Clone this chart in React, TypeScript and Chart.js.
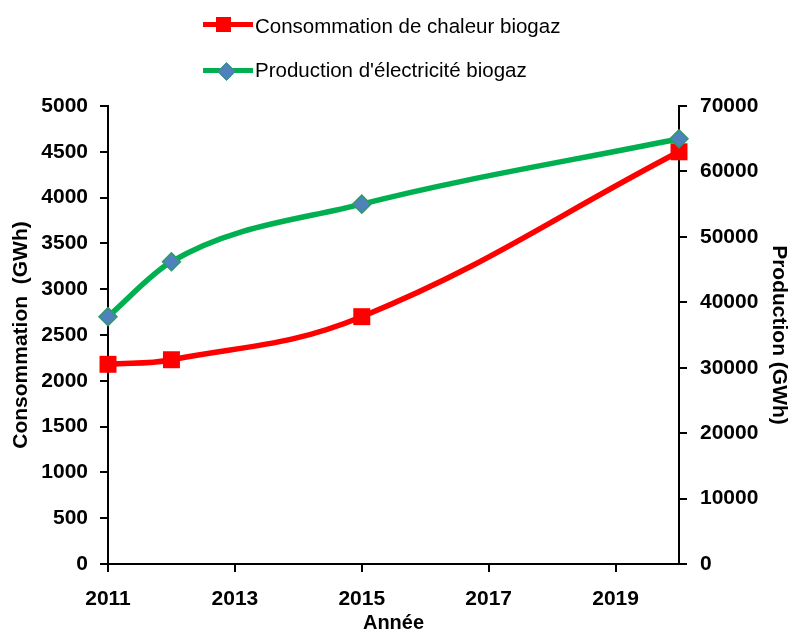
import React, { useEffect, useRef } from "react";
import { Chart, registerables } from "chart.js";

Chart.register(...registerables);

const years = [2011, 2012, 2015, 2020];
const consommation = [2180, 2230, 2700, 4500];
const production = [37800, 46200, 55000, 65000];
const xTickYears = [2011, 2013, 2015, 2017, 2019];

const labelConso = "Consommation de chaleur biogaz";
const labelProd = "Production d'électricité biogaz";

const FONT = "'Liberation Sans', Arial, sans-serif";

export default function App() {
  const ref = useRef<HTMLCanvasElement>(null);

  useEffect(() => {
    if (!ref.current) return;
    const tickFont = { family: FONT, size: 21, weight: "bold" as const };
    const chart = new Chart(ref.current, {
      type: "line",
      data: {
        datasets: [
          {
            label: labelConso,
            data: years.map((x, i) => ({ x, y: consommation[i] })),
            yAxisID: "y",
            borderColor: "#ff0000",
            backgroundColor: "#ff0000",
            borderWidth: 5.5,
            pointStyle: "rect",
            pointRadius: 12,
            pointBorderWidth: 0,
            pointBackgroundColor: "#ff0000",
            tension: 0.4,
            clip: false,
            order: 1,
          },
          {
            label: labelProd,
            data: years.map((x, i) => ({ x, y: production[i] })),
            yAxisID: "y1",
            borderColor: "#00b050",
            backgroundColor: "#4f81bd",
            borderWidth: 5.5,
            pointStyle: "rectRot",
            pointRadius: 9,
            pointBorderWidth: 1.5,
            pointBorderColor: "#2e9a6a",
            pointBackgroundColor: "#4f81bd",
            cubicInterpolationMode: "monotone",
            clip: false,
            order: 0,
          },
        ],
      },
      options: {
        responsive: false,
        animation: false,
        devicePixelRatio: 1,
        layout: { padding: { top: 106, left: 0, right: 0, bottom: 0 } },
        plugins: {
          legend: { display: false },
          tooltip: { enabled: false },
        },
        scales: {
          x: {
            type: "linear",
            position: "bottom",
            min: 2011,
            max: 2020,
            ticks: {
              stepSize: 2,
              font: tickFont,
              color: "#000",
              padding: 15,
              maxRotation: 0,
              callback: (v: any) => String(v),
            },
            afterBuildTicks: (s: any) => {
              s.ticks = xTickYears.map((v) => ({ value: v }));
            },
            afterFit: (s: any) => {
              s.height = 68;
            },
            grid: {
              drawOnChartArea: false,
              drawTicks: true,
              tickLength: 8,
              color: "#000",
              lineWidth: 2,
            },
            border: { display: true, color: "#000", width: 2 },
            title: {
              display: true,
              text: "Année",
              color: "#000",
              font: { family: FONT, size: 20, weight: "bold", lineHeight: 1 },
              padding: { top: 0, bottom: -1 },
            },
          },
          y: {
            type: "linear",
            position: "left",
            min: 0,
            max: 5000,
            ticks: {
              stepSize: 500,
              font: tickFont,
              color: "#000",
              padding: 12,
              callback: (v: any) => String(v),
            },
            afterFit: (s: any) => {
              s.width = 108;
            },
            grid: {
              drawOnChartArea: false,
              drawTicks: true,
              tickLength: 8,
              color: "#000",
              lineWidth: 2,
            },
            border: { display: true, color: "#000", width: 2 },
            title: {
              display: true,
              text: "Consommation  (GWh)",
              color: "#000",
              font: { family: FONT, size: 21, weight: "bold", lineHeight: 1 },
              padding: { top: 11, bottom: 0 },
            },
          },
          y1: {
            type: "linear",
            position: "right",
            min: 0,
            max: 70000,
            ticks: {
              stepSize: 10000,
              font: tickFont,
              color: "#000",
              padding: 13,
              callback: (v: any) => String(v),
            },
            afterFit: (s: any) => {
              s.width = 110;
            },
            grid: {
              drawOnChartArea: false,
              drawTicks: true,
              tickLength: 8,
              color: "#000",
              lineWidth: 2,
            },
            border: { display: true, color: "#000", width: 2 },
            title: {
              display: true,
              text: "Production (GWh)",
              color: "#000",
              font: { family: FONT, size: 21, weight: "bold", lineHeight: 1 },
              padding: { top: 0, bottom: 0 },
            },
          },
        },
      },
    });
    return () => chart.destroy();
  }, []);

  const textStyle: React.CSSProperties = {
    position: "absolute",
    left: 255,
    fontFamily: FONT,
    fontSize: 20.5,
    lineHeight: "20.5px",
    color: "#000",
    whiteSpace: "nowrap",
  };

  return (
    <div style={{ position: "absolute", left: 0, top: 0, width: 789, height: 632, background: "#fff" }}>
      <canvas ref={ref} width={789} height={632} style={{ position: "absolute", left: 0, top: 0 }} />
      {/* legend row 1 */}
      <div style={{ position: "absolute", left: 203, top: 22, width: 50, height: 5, background: "#ff0000" }} />
      <div style={{ position: "absolute", left: 216, top: 17, width: 15, height: 15, background: "#ff0000" }} />
      <div style={{ ...textStyle, top: 15.5 }}>{labelConso}</div>
      {/* legend row 2 */}
      <div style={{ position: "absolute", left: 203, top: 68, width: 50, height: 5, background: "#00b050" }} />
      <div
        style={{
          position: "absolute",
          left: 220,
          top: 65,
          width: 11,
          height: 11,
          background: "#4f81bd",
          border: "1px solid #2e9a6a",
          transform: "rotate(45deg)",
        }}
      />
      <div style={{ ...textStyle, top: 59.5 }}>{labelProd}</div>
    </div>
  );
}
